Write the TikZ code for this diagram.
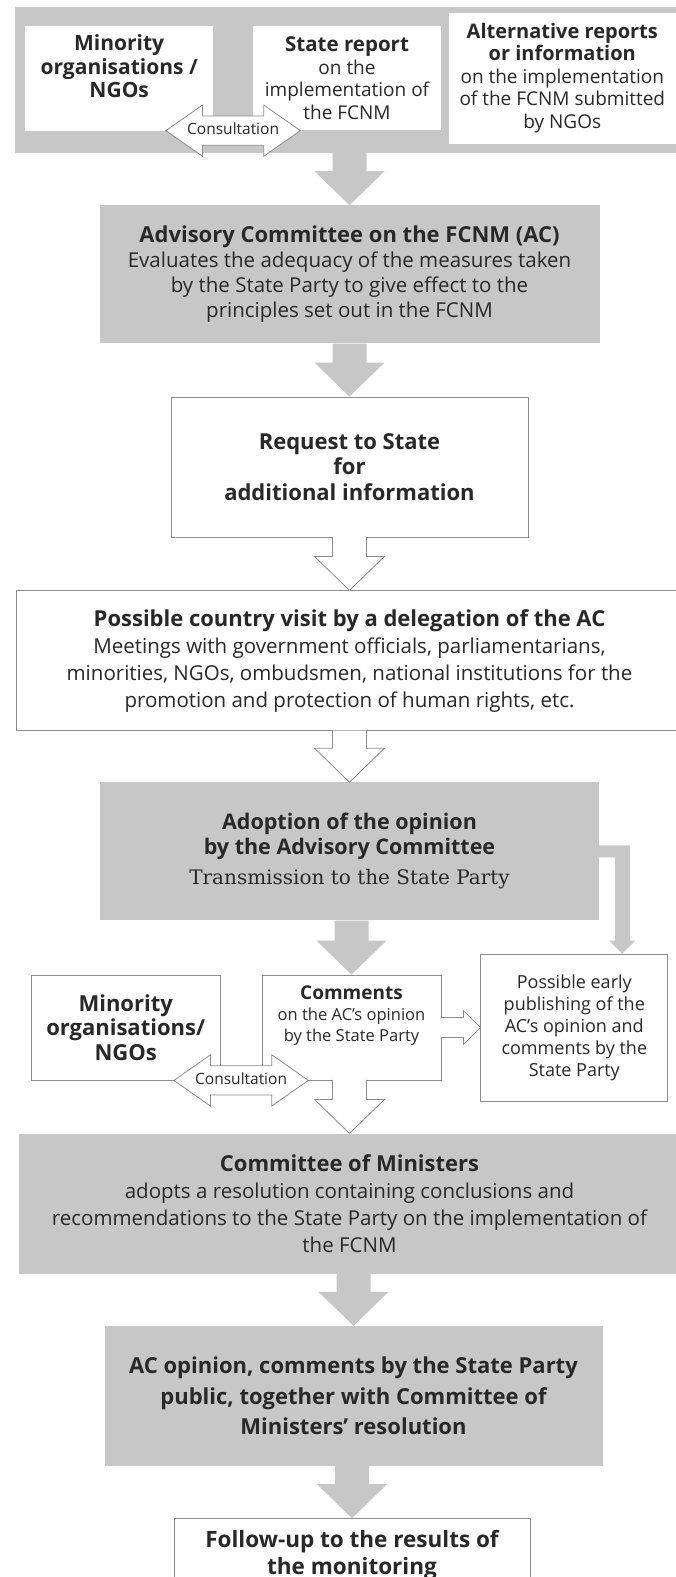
\documentclass[tikz,border=0pt]{standalone}
\usepackage{fontspec}
\setmainfont{Open Sans}
\newfontfamily\oldserif{DejaVu Serif}
\usepackage{tikz}
\usetikzlibrary{positioning, shapes.arrows, calc}

\definecolor{panelgrey}{RGB}{199,199,199}
\definecolor{linegrey}{RGB}{140,140,140}
\definecolor{inkgrey}{RGB}{40,40,40}

% bold first line of a box
\newcommand{\boxhead}[2][22]{{\fontsize{#1}{25}\selectfont\bfseries #2}}

% grey block arrow, straight down from one node to the next
\newcommand{\greydrop}[2]{%
  \fill[panelgrey] let \p1=(#1.south), \p2=(#2.north) in
    (\x2-17,\y1) -- (\x2+17,\y1) -- (\x2+17,\y2+34) -- (\x2+35,\y2+34)
    -- (\x2,\y2) -- (\x2-35,\y2+34) -- (\x2-17,\y2+34) -- cycle;}

% white block arrow, open into the box it leaves
\newcommand{\hollowdrop}[2]{%
  \filldraw[fill=white, draw=linegrey, line width=0.8pt]
    let \p1=(#1.south), \p2=(#2.north) in
    (\x2-17,\y1+0.6) -- (\x2-17,\y2+34) -- (\x2-35,\y2+34) -- (\x2,\y2)
    -- (\x2+35,\y2+34) -- (\x2+17,\y2+34) -- (\x2+17,\y1+0.6);}

\begin{document}
\begin{tikzpicture}[
  x=1pt,
  y=1pt,
  panel/.style={
    rectangle,
    fill=panelgrey,
    align=center,
    inner sep=2pt,
    text=inkgrey,
    font=\fontsize{20.5}{25}\selectfont,
  },
  card/.style={
    rectangle,
    draw=linegrey,
    line width=0.8pt,
    fill=white,
    align=center,
    inner sep=2pt,
    text=inkgrey,
    font=\fontsize{20.5}{25}\selectfont,
  },
  consult/.style={
    double arrow,
    draw=linegrey,
    line width=0.8pt,
    fill=white,
    double arrow head extend=11pt,
    double arrow tip angle=70,
    minimum height=124pt,
    inner xsep=0pt,
    inner ysep=7.5pt,
    text height=10.5pt,
    text depth=3pt,
    text=inkgrey,
    font=\fontsize{15.5}{17}\selectfont,
  },
]
\useasboundingbox (0,0) rectangle (676,-1577);

% reports coming in
\node[panel, minimum width=669pt, minimum height=146pt] (band) at (349.5,-80) {};
\node[card, draw=none, minimum width=188pt, minimum height=104pt,
  font=\fontsize{19}{22.5}\selectfont] (state) at (347,-78)
  {\boxhead[20.5]{State report}\\on the\\implementation of\\the FCNM};
\node[card, draw=none, minimum width=188pt, minimum height=105pt, left=39pt of state,
  font=\fontsize{21}{23.5}\selectfont\bfseries] (minorityA)
  {Minority\\organisations /\\NGOs\\[0pt]};
\node[card, draw=none, minimum width=227pt, minimum height=131pt, right=7pt of state,
  font=\fontsize{19}{22.5}\selectfont] (altrep)
  {\boxhead[20]{Alternative reports}\\\boxhead[20]{or information}\\on the implementation\\of the FCNM submitted\\by NGOs};
\node[consult] (consultA) at ($(minorityA.south east)!0.5!(state.south west)$) {Consultation};

% monitoring cycle
\node[panel, minimum width=500pt, minimum height=138pt, below=52pt of band] (advisory)
  {\boxhead{Advisory Committee on the FCNM (AC)}\\Evaluates the adequacy of the measures taken\\by the State Party to give effect to the\\principles set out in the FCNM};
\node[card, minimum width=357pt, minimum height=140pt, below=53pt of advisory,
  font=\fontsize{22}{25.5}\selectfont\bfseries] (request)
  {Request to State\\for\\additional information};
\node[card, minimum width=667pt, minimum height=140pt, below=53pt of request,
  font=\fontsize{20.5}{27}\selectfont] (visit)
  {\boxhead{Possible country visit by a delegation of the AC}\\Meetings with government officials, parliamentarians,\\minorities, NGOs, ombudsmen, national institutions for the\\promotion and protection of human rights, etc.};
\node[panel, minimum width=499pt, minimum height=138pt, below=51pt of visit] (adoption)
  {\boxhead[21.5]{Adoption of the opinion}\\\boxhead[21.5]{by the Advisory Committee}\\[5pt]{\oldserif\fontsize{20}{25}\selectfont Transmission to the State Party}};
\node[card, minimum width=179pt, minimum height=105pt, below=54pt of adoption, xshift=2pt,
  font=\fontsize{16.5}{21}\selectfont] (comments)
  {\boxhead[19]{Comments}\\on the AC's opinion\\by the State Party\\[6pt]};
\node[card, minimum width=189pt, minimum height=105pt, left=41pt of comments,
  font=\fontsize{22}{24.5}\selectfont\bfseries] (minorityB)
  {Minority\\organisations/\\NGOs};
\node[card, minimum width=187pt, minimum height=147pt, right=39pt of comments,
  font=\fontsize{18}{22}\selectfont] (early)
  {Possible early\\publishing of the\\AC's opinion and\\comments by the\\State Party};
\node[consult] (consultB) at ($(minorityB.south east)!0.5!(comments.south west)$) {Consultation};
\node[panel, minimum width=661pt, minimum height=140pt, below=53pt of comments, xshift=-2pt,
  font=\fontsize{20.5}{27}\selectfont] (ministers)
  {\boxhead{Committee of Ministers}\\adopts a resolution containing conclusions and\\recommendations to the State Party on the implementation of\\the FCNM};
\node[panel, minimum width=498pt, minimum height=140pt, below=52pt of ministers, xshift=4pt,
  font=\fontsize{22}{30.5}\selectfont\bfseries] (public)
  {AC opinion, comments by the State Party\\public, together with Committee of\\Ministers' resolution};
\node[card, minimum width=356pt, minimum height=72pt, below=52pt of public, xshift=-1.5pt,
  font=\fontsize{22.5}{27}\selectfont\bfseries] (followup)
  {Follow-up to the results of\\the monitoring};

% block arrows
\greydrop{band}{advisory}
\greydrop{advisory}{request}
\hollowdrop{request}{visit}
\hollowdrop{visit}{adoption}
\greydrop{adoption}{comments}
\hollowdrop{comments}{ministers}
\greydrop{ministers}{public}
\greydrop{public}{followup}
\fill[panelgrey] let \p1=(adoption.east), \p2=(early.north) in
  (\x1,\y1+6) -- (\x1+31,\y1+6) -- (\x1+31,\y2+13) -- (\x1+36,\y2+13) -- (\x1+23,\y2)
  -- (\x1+10,\y2+13) -- (\x1+16,\y2+13) -- (\x1+16,\y1-6) -- (\x1,\y1-6) -- cycle;
\filldraw[fill=white, draw=linegrey, line width=0.8pt]
  let \p1=(comments.east), \p2=(early.west) in
  (\x1-0.6,\y1+10) -- (\x2-17,\y1+10) -- (\x2-17,\y1+17) -- (\x2,\y1)
  -- (\x2-17,\y1-17) -- (\x2-17,\y1-10) -- (\x1-0.6,\y1-10);
\end{tikzpicture}
\end{document}
